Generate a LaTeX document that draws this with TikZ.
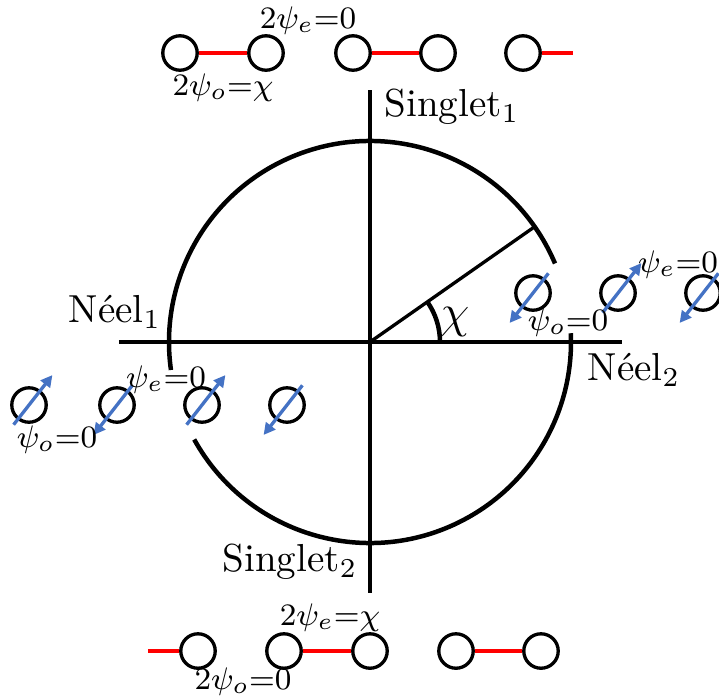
\documentclass[tikz,border=0pt]{standalone}
\usepackage{amsmath,amssymb}
\usetikzlibrary{arrows.meta, positioning}

\definecolor{spinblue}{RGB}{68,114,196}

\begin{document}
\begin{tikzpicture}[
    x=0.009cm, y=0.009cm,
    site/.style={circle, draw, line width=0.85pt, minimum size=0.31cm, inner sep=0pt},
    bond/.style={red, line width=0.8pt},
    axis/.style={line width=0.85pt},
    big/.style={line width=1.15pt},
    spin/.style={-{Triangle[length=3pt,width=3pt]}, spinblue, line width=0.85pt},
    lab/.style={font=\footnotesize, inner sep=0pt}
]
\useasboundingbox (-370,-353) rectangle (349,342);
\coordinate (o) at (0,0);
\coordinate (xl) at (-251,0);
\coordinate (xr) at (252,0);
\coordinate (yt) at (0,252);
\coordinate (yb) at (0,-251);
\coordinate (r) at (35:201);
% axes and circle
\draw[axis] (xl) -- (xr);
\draw[axis] (yt) -- (yb);
\draw[axis] (o) -- (r);
\draw[big] ([shift={(23:201)}]o) arc[start angle=23, end angle=188, radius=201];
\draw[big] ([shift={(209:201)}]o) arc[start angle=209, end angle=362.5, radius=201];
\draw[big] ([shift={(0:70)}]o) arc[start angle=0, end angle=35, radius=70];
\node[font=\large] (chi) at (85,20) {$\chi$};
\node (sg1) at (82,235) {Singlet$_1$};
\node (sg2) at (-80,-220) {Singlet$_2$};
\node (ne1) at (-255,30) {N\'eel$_1$};
\node (ne2) at (264,-28) {N\'eel$_2$};
% top chain
\node[site] (t1) at (-190,289) {};
\node[site] (t2) at (-104,289) {};
\node[site] (t3) at (-17,289) {};
\node[site] (t4) at (68,289) {};
\node[site] (t5) at (153,289) {};
\coordinate (te) at (203,289);
\draw[bond] (t1) -- (t2);
\draw[bond] (t3) -- (t4);
\draw[bond] (t5) -- (te);
\node[lab] (te0) at (-62,321) {$2\psi_e{=}0$};
\node[lab] (toc) at (-147,254) {$2\psi_o{=}\chi$};
% bottom chain
\node[site] (b1) at (-172,-309) {};
\node[site] (b2) at (-86,-309) {};
\node[site] (b3) at (0,-309) {};
\node[site] (b4) at (86,-309) {};
\node[site] (b5) at (171,-309) {};
\coordinate (bs) at (-222,-309);
\draw[bond] (bs) -- (b1);
\draw[bond] (b2) -- (b3);
\draw[bond] (b4) -- (b5);
\node[lab] (bec) at (-40,-276) {$2\psi_e{=}\chi$};
\node[lab] (bo0) at (-127,-340) {$2\psi_o{=}0$};
% left spin chain
\node[site] (l1) at (-341,-63) {};
\node[site] (l2) at (-253,-63) {};
\node[site] (l3) at (-168,-63) {};
\node[site] (l4) at (-83,-63) {};
\draw[spin] ([shift={(-128:25)}]l1.center) -- ([shift={(52:38)}]l1.center);
\draw[spin] ([shift={(52:25)}]l2.center) -- ([shift={(-128:38)}]l2.center);
\draw[spin] ([shift={(-128:25)}]l3.center) -- ([shift={(52:38)}]l3.center);
\draw[spin] ([shift={(52:25)}]l4.center) -- ([shift={(-128:38)}]l4.center);
\node[lab] (le0) at (-204,-38) {$\psi_e{=}0$};
\node[lab] (lo0) at (-313,-98) {$\psi_o{=}0$};
% right spin chain
\node[site] (n1) at (163,49) {};
\node[site] (n2) at (248,49) {};
\node[site] (n3) at (333,49) {};
\draw[spin] ([shift={(52:25)}]n1.center) -- ([shift={(-128:38)}]n1.center);
\draw[spin] ([shift={(-128:25)}]n2.center) -- ([shift={(52:38)}]n2.center);
\draw[spin] ([shift={(52:25)}]n3.center) -- ([shift={(-128:38)}]n3.center);
\node[lab] (ne0) at (308,77) {$\psi_e{=}0$};
\node[lab] (no0) at (198,19) {$\psi_o{=}0$};
\end{tikzpicture}
\end{document}
